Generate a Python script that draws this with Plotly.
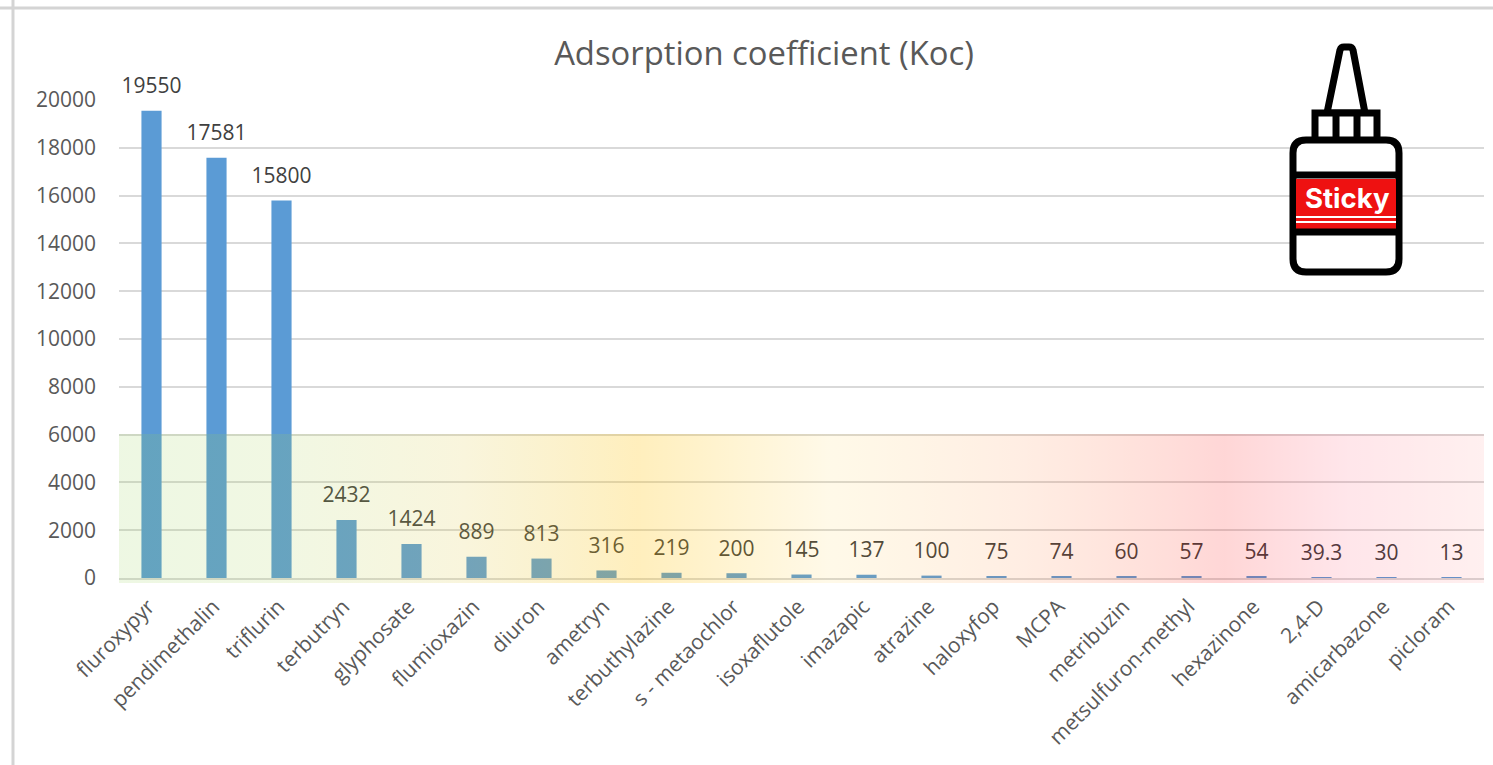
import base64
import plotly.graph_objects as go

categories = ["fluroxypyr", "pendimethalin", "triflurin", "terbutryn", "glyphosate", "flumioxazin",
              "diuron", "ametryn", "terbuthylazine", "s - metaochlor", "isoxaflutole", "imazapic",
              "atrazine", "haloxyfop", "MCPA", "metribuzin", "metsulfuron-methyl", "hexazinone",
              "2,4-D", "amicarbazone", "picloram"]
koc_values = [19550, 17581, 15800, 2432, 1424, 889, 813, 316, 219, 200, 145, 137, 100, 75, 74, 60, 57, 54, 39.3, 30, 13]
y_ticks = [0, 2000, 4000, 6000, 8000, 10000, 12000, 14000, 16000, 18000, 20000]
title_text = "Adsorption coefficient (Koc)"

W, H = 1493, 765
L, R, T, B = 119, 1484, 100, 578
FONT = "Open Sans"


def px(x):
    return (x - L) / (R - L)


def py(y):
    return (B - y) / (B - T)


# colour band overlay (offset, colour, opacity)
stops = [(0, "#92D050", .16), (.12, "#A8D050", .16), (.25, "#DDC840", .18), (.38, "#FFC000", .26), (.52, "#FFC000", .09),
         (.66, "#FF6000", .11), (.81, "#FF0000", .16), (.90, "#FF0030", .10), (1, "#FF0000", .06)]
stop_xml = "".join(f'<stop offset="{o}" stop-color="{c}" stop-opacity="{a}"/>' for o, c, a in stops)
svg = ('<svg xmlns="http://www.w3.org/2000/svg" width="1365" height="149" preserveAspectRatio="none">'
       f'<defs><linearGradient id="g">{stop_xml}</linearGradient></defs>'
       '<rect width="1365" height="149" fill="url(#g)"/></svg>')
band_uri = "data:image/svg+xml;base64," + base64.b64encode(svg.encode()).decode()

fig = go.Figure()
fig.add_trace(go.Bar(x=categories, y=koc_values, width=0.31, marker=dict(color="#5B9BD5", line_width=0),
                     hoverinfo="x+y", showlegend=False))
fig.add_trace(go.Scatter(x=categories, y=koc_values, mode="markers+text", text=[str(v) for v in koc_values],
                         textposition="top center", cliponaxis=False,
                         textfont=dict(family=FONT, size=21, color="#404040"),
                         marker=dict(size=18, opacity=0), hoverinfo="skip", showlegend=False))


def shp(path=None, fill="white", line="black", lw=7, **kw):
    d = dict(type="path", path=path, xref="paper", yref="paper", fillcolor=fill, layer="above",
             line=dict(color=line, width=lw))
    d.update(kw)
    return d


def pth(points, close=True):
    s = "M" + " L".join(f"{px(x):.5f},{py(y):.5f}" for x, y in points)
    return s + (" Z" if close else "")


def rrect(x0, y0, x1, y1, r):
    return (f"M{px(x0 + r):.5f},{py(y0):.5f} L{px(x1 - r):.5f},{py(y0):.5f} "
            f"Q{px(x1):.5f},{py(y0):.5f} {px(x1):.5f},{py(y0 + r):.5f} "
            f"L{px(x1):.5f},{py(y1 - r):.5f} Q{px(x1):.5f},{py(y1):.5f} {px(x1 - r):.5f},{py(y1):.5f} "
            f"L{px(x0 + r):.5f},{py(y1):.5f} Q{px(x0):.5f},{py(y1):.5f} {px(x0):.5f},{py(y1 - r):.5f} "
            f"L{px(x0):.5f},{py(y0 + r):.5f} Q{px(x0):.5f},{py(y0):.5f} {px(x0 + r):.5f},{py(y0):.5f} Z")


nozzle = (f"M{px(1327):.5f},{py(113):.5f} L{px(1340):.5f},{py(50):.5f} "
          f"Q{px(1341):.5f},{py(47):.5f} {px(1344):.5f},{py(47):.5f} L{px(1349):.5f},{py(47):.5f} "
          f"Q{px(1352):.5f},{py(47):.5f} {px(1353):.5f},{py(50):.5f} L{px(1365):.5f},{py(113):.5f} Z")

shapes = [
    shp(pth([(0, 8), (W, 8)], False), fill="rgba(0,0,0,0)", line="#D4D4D4", lw=3),
    shp(pth([(13, 0), (13, H)], False), fill="rgba(0,0,0,0)", line="#D4D4D4", lw=3),
    shp(nozzle),
    shp(pth([(1315, 113), (1377, 113), (1377, 141), (1315, 141)])),
    shp(pth([(1336, 113), (1336, 141)], False), fill="rgba(0,0,0,0)"),
    shp(pth([(1357, 113), (1357, 141)], False), fill="rgba(0,0,0,0)"),
    shp(rrect(1293, 140, 1399, 272, 13)),
    shp(pth([(1296, 179), (1396, 179), (1396, 229), (1296, 229)]), fill="#EE1111", lw=0),
    shp(pth([(1296, 175), (1396, 175)], False), fill="rgba(0,0,0,0)"),
    shp(pth([(1296, 232), (1396, 232)], False), fill="rgba(0,0,0,0)"),
    shp(pth([(1296, 217), (1396, 217)], False), fill="rgba(0,0,0,0)", line="white", lw=2),
    shp(pth([(1296, 222), (1396, 222)], False), fill="rgba(0,0,0,0)", line="white", lw=2),
]

fig.update_layout(
    width=W, height=H, margin=dict(l=L, r=W - R, t=T, b=H - B, autoexpand=False),
    paper_bgcolor="white", plot_bgcolor="white",
    title=dict(text=title_text, x=764 / W, y=1 - 54 / H, xref="container", yref="container",
               xanchor="center", yanchor="middle", font=dict(family=FONT, size=32.8, color="#595959")),
    xaxis=dict(type="category", range=[-0.5, 20.5], tickangle=-45, ticks="", showgrid=False, linecolor="#D9D9D9",
               linewidth=2, ticklabelstandoff=6, ticklabelshift=-3,
               tickfont=dict(family=FONT, size=21, color="#595959"), automargin=False),
    yaxis=dict(range=[0, 20000], tickvals=y_ticks, ticktext=[str(v) for v in y_ticks], ticks="",
               gridcolor="#D9D9D9", gridwidth=2, zeroline=False, ticklabelstandoff=22,
               tickfont=dict(family=FONT, size=21, color="#595959"), automargin=False),
    images=[dict(source=band_uri, xref="paper", yref="paper", x=0, y=(B - 434) / (B - T), sizex=1,
                 sizey=149 / (B - T), sizing="stretch", xanchor="left", yanchor="top", layer="above")],
    shapes=shapes,
    annotations=[dict(text="<b>Sticky</b>", x=px(1347), y=py(198), xref="paper", yref="paper", showarrow=False,
                      xanchor="center", yanchor="middle", font=dict(family="Inter", size=27.5, color="white"))],
)
fig.write_html("out.html", config=dict(displayModeBar=False), post_script="document.body.style.margin='0';")
